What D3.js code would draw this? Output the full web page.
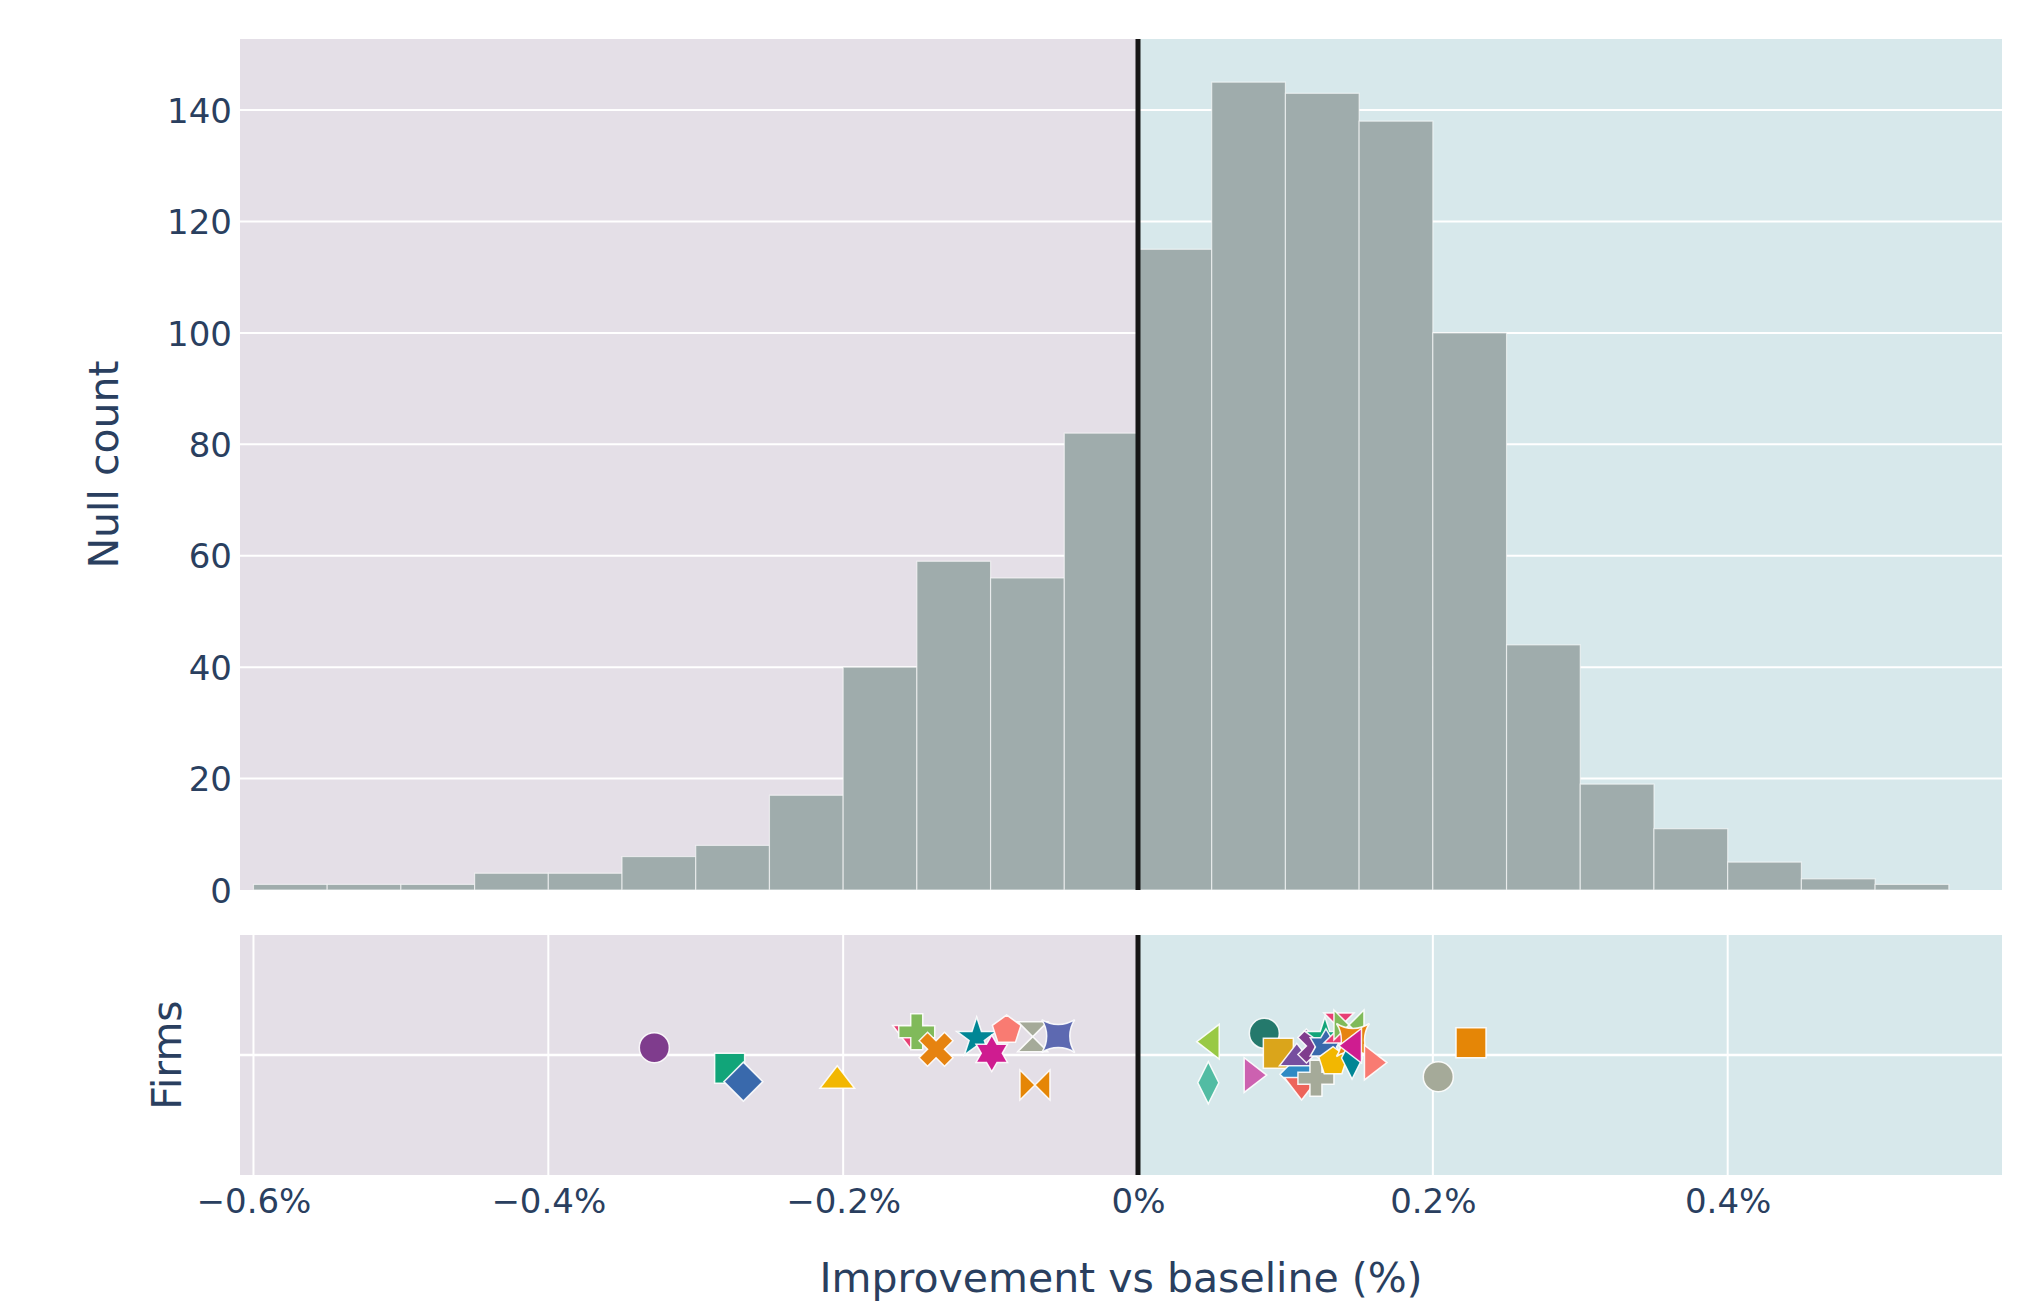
<!DOCTYPE html>
<html>
<head>
<meta charset="utf-8">
<script src="https://cdn.jsdelivr.net/npm/d3@7"></script>
<style>
  html, body { margin: 0; padding: 0; background: #ffffff; }
  svg { display: block; }
  text { font-family: "DejaVu Sans", Verdana, sans-serif; fill: #2a3f5f; }
</style>
</head>
<body>
<svg id="chart" width="2031" height="1306"></svg>
<script>
// Null distribution histogram: lower edge of each 0.05% bin and its count
const binLower = [-0.60, -0.55, -0.50, -0.45, -0.40, -0.35, -0.30, -0.25, -0.20, -0.15, -0.10, -0.05,
                   0.00,  0.05,  0.10,  0.15,  0.20,  0.25,  0.30,  0.35,  0.40,  0.45,  0.50];
const binCounts = [1, 1, 1, 3, 3, 6, 8, 17, 40, 59, 56, 82,
                   115, 145, 143, 138, 100, 44, 19, 11, 5, 2, 1];
const binWidth = 0.05;

// Axis ticks
const countTicks = [0, 20, 40, 60, 80, 100, 120, 140];
const pctTicks = [-0.6, -0.4, -0.2, 0, 0.2, 0.4];
const pctTickLabels = ["\u22120.6%", "\u22120.4%", "\u22120.2%", "0%", "0.2%", "0.4%"];

// Firms: observed improvement (%) and vertical jitter used to spread overlapping markers
const firmImprovement = [-0.3281, -0.2770, -0.2677, -0.2040, -0.1547, -0.1501, -0.1370, -0.1094, -0.0992, -0.0891,
                         -0.0714, -0.0699, -0.0541, 0.0477, 0.0500, 0.0771, 0.0857, 0.0952, 0.1095, 0.1077,
                          0.1110, 0.1207, 0.1200, 0.1268, 0.1275, 0.1323, 0.1363, 0.1431, 0.1458, 0.1452,
                          0.1465, 0.1587, 0.2037, 0.2259];
const firmJitter = [0.061, -0.111, -0.222, -0.214, 0.183, 0.194, 0.048, 0.142, 0.014, 0.208,
                    0.153, -0.250, 0.158, -0.231, 0.111, -0.167, 0.181, 0.014, -0.160, -0.028,
                    -0.250, -0.194, 0.075, 0.142, 0.067, -0.056, 0.225, 0.250, 0.125, -0.025,
                    0.077, -0.063, -0.181, 0.103];

// Marker styling: colour and symbol cycle by firm index
const firmPalette = [
  "rgb(127,60,141)", "rgb(17,165,121)", "rgb(57,105,172)", "rgb(242,183,1)", "rgb(231,63,116)",
  "rgb(128,186,90)", "rgb(230,131,16)", "rgb(0,134,149)", "rgb(207,28,144)", "rgb(249,123,114)",
  "rgb(165,170,153)",
  "rgb(229,134,6)", "rgb(93,105,177)", "rgb(82,188,163)", "rgb(153,201,69)", "rgb(204,97,176)",
  "rgb(36,121,108)", "rgb(218,165,27)", "rgb(47,138,196)", "rgb(118,78,159)", "rgb(237,100,90)",
  "rgb(165,170,153)"
];
const firmSymbols = ["circle", "square", "diamond", "triangle-up", "triangle-down", "cross", "x", "star",
                     "hexagram", "pentagon", "hourglass", "bowtie", "star-square", "diamond-tall",
                     "triangle-left", "triangle-right"];

const W = 2031, H = 1306;
const plotLeft = 240, plotRight = 2002;
const histTop = 39, histBottom = 890;
const firmTop = 935, firmBottom = 1175;

const svg = d3.select("#chart");
svg.append("rect").attr("width", W).attr("height", H).attr("fill", "#ffffff");

const pxPerUnit = 1474.2, zeroPx = 1138;
const x = d3.scaleLinear()
  .domain([(plotLeft - zeroPx) / pxPerUnit, (plotRight - zeroPx) / pxPerUnit])
  .range([plotLeft, plotRight]);
const yCount = d3.scaleLinear().domain([0, 152.75]).range([histBottom, histTop]);
const yFirm = d3.scaleLinear().domain([-1, 1]).range([firmBottom, firmTop]);

const bgNeg = "rgb(228,223,231)";
const bgPos = "rgb(215,232,235)";

// Two-tone panel backgrounds (below / above baseline)
function panelBackground(top, bottom) {
  svg.append("rect").attr("x", plotLeft).attr("y", top)
    .attr("width", x(0) - plotLeft).attr("height", bottom - top).attr("fill", bgNeg);
  svg.append("rect").attr("x", x(0)).attr("y", top)
    .attr("width", plotRight - x(0)).attr("height", bottom - top).attr("fill", bgPos);
}
panelBackground(histTop, histBottom);
panelBackground(firmTop, firmBottom);

// Histogram gridlines
svg.append("g")
  .selectAll("line").data(countTicks.filter(d => d > 0)).join("line")
  .attr("x1", plotLeft).attr("x2", plotRight)
  .attr("y1", d => yCount(d)).attr("y2", d => yCount(d))
  .attr("stroke", "#ffffff").attr("stroke-width", 2);

// Firm panel gridlines
svg.append("g")
  .selectAll("line").data(pctTicks.filter(d => d !== 0)).join("line")
  .attr("x1", d => x(d)).attr("x2", d => x(d))
  .attr("y1", firmTop).attr("y2", firmBottom)
  .attr("stroke", "#ffffff").attr("stroke-width", 2);
svg.append("line")
  .attr("x1", plotLeft).attr("x2", plotRight)
  .attr("y1", yFirm(0)).attr("y2", yFirm(0))
  .attr("stroke", "#ffffff").attr("stroke-width", 2.5);

// Histogram bars
svg.append("g")
  .selectAll("rect").data(binLower.map((lo, i) => ({ lo, count: binCounts[i] }))).join("rect")
  .attr("x", d => x(d.lo))
  .attr("width", d => x(d.lo + binWidth) - x(d.lo))
  .attr("y", d => yCount(d.count))
  .attr("height", d => yCount(0) - yCount(d.count))
  .attr("fill", "rgb(159,172,172)")
  .attr("stroke", "rgba(255,255,255,0.6)")
  .attr("stroke-width", 1.2);

// Baseline marker at 0%
[[histTop, histBottom], [firmTop, firmBottom]].forEach(([t, b]) => {
  svg.append("line").attr("x1", x(0)).attr("x2", x(0)).attr("y1", t).attr("y2", b)
    .attr("stroke", "#161616").attr("stroke-width", 5);
});

// Marker symbol paths (r = half the marker size)
function symbolPath(name, r) {
  const rt = r * 2 / Math.sqrt(3);
  switch (name) {
    case "circle":
      return `M${r},0A${r},${r} 0 1,1 0,${-r}A${r},${r} 0 0,1 ${r},0Z`;
    case "square":
      return `M${r},${r}H${-r}V${-r}H${r}Z`;
    case "diamond": {
      const d = r * 1.3;
      return `M${d},0L0,${d}L${-d},0L0,${-d}Z`;
    }
    case "diamond-tall": {
      const dx = r * 0.7, dy = r * 1.4;
      return `M0,${dy}L${dx},0L0,${-dy}L${-dx},0Z`;
    }
    case "triangle-up":
      return `M${-rt},${r / 2}H${rt}L0,${-r}Z`;
    case "triangle-down":
      return `M${-rt},${-r / 2}H${rt}L0,${r}Z`;
    case "triangle-left":
      return `M${r / 2},${-rt}V${rt}L${-r},0Z`;
    case "triangle-right":
      return `M${-r / 2},${-rt}V${rt}L${r},0Z`;
    case "cross": {
      const a = r * 0.4, b = r * 1.2;
      return `M${b},${a}H${a}V${b}H${-a}V${a}H${-b}V${-a}H${-a}V${-b}H${a}V${-a}H${b}Z`;
    }
    case "x": {
      const q = r * 0.8 / Math.SQRT2;
      const pts = [[0, q], [q, 2 * q], [2 * q, q], [q, 0], [2 * q, -q], [q, -2 * q], [0, -q],
                   [-q, -2 * q], [-2 * q, -q], [-q, 0], [-2 * q, q], [-q, 2 * q]];
      return "M" + pts.map(p => p.join(",")).join("L") + "Z";
    }
    case "pentagon": {
      const x1 = r * 0.951, x2 = r * 0.588, y0 = -r, y1 = -r * 0.309, y2 = r * 0.809;
      return `M${x1},${y1}L${x2},${y2}H${-x2}L${-x1},${y1}L0,${y0}Z`;
    }
    case "hexagram": {
      const R = r * 2 / Math.sqrt(3) * 1.05, ri = R / Math.sqrt(3);
      const pts = [];
      for (let k = 0; k < 12; k++) {
        const rad = k % 2 === 0 ? R : ri;
        const ang = -Math.PI / 2 + k * Math.PI / 6;
        pts.push([rad * Math.cos(ang), rad * Math.sin(ang)]);
      }
      return "M" + pts.map(p => p.join(",")).join("L") + "Z";
    }
    case "star": {
      const rs = r * 1.4;
      const x1 = rs * 0.225, x2 = rs * 0.951, x3 = rs * 0.363, x4 = rs * 0.588;
      const y0 = -rs, y1 = rs * -0.309, y3 = rs * 0.118, y4 = rs * 0.809, y5 = rs * 0.382;
      return `M${x1},${y1}H${x2}L${x3},${y3}L${x4},${y4}L0,${y5}L${-x4},${y4}L${-x3},${y3}L${-x2},${y1}H${-x1}L0,${y0}Z`;
    }
    case "hourglass":
      return `M${r},${r}H${-r}L${r},${-r}H${-r}Z`;
    case "bowtie":
      return `M${r},${r}V${-r}L${-r},${r}V${-r}Z`;
    case "star-square": {
      const p = r * 1.1, c = r * 2;
      const a = `A${c},${c} 0 0 1 `;
      return `M${-p},${-p}${a}${-p},${p}${a}${p},${p}${a}${p},${-p}${a}${-p},${-p}Z`;
    }
  }
  return "";
}

// Firm markers
const markerR = 15;
svg.append("g")
  .selectAll("path").data(firmImprovement.map((v, i) => ({ v, j: firmJitter[i], i }))).join("path")
  .attr("transform", d => `translate(${x(d.v)},${yFirm(d.j)})`)
  .attr("d", d => symbolPath(firmSymbols[d.i % firmSymbols.length], markerR))
  .attr("fill", d => firmPalette[d.i % firmPalette.length])
  .attr("stroke", "#ffffff")
  .attr("stroke-width", 1.5)
  .attr("stroke-opacity", 0.9);

// Axis tick labels
const yAxis = d3.axisLeft(yCount).tickValues(countTicks).tickSize(0).tickPadding(8);
const gy = svg.append("g").attr("transform", `translate(${plotLeft},0)`).call(yAxis);
gy.select(".domain").remove();
gy.selectAll("text").style("font-size", "34px").attr("fill", "#2a3f5f").attr("dy", "0.36em");

const xAxis = d3.axisBottom(x).tickValues(pctTicks).tickSize(0).tickPadding(0)
  .tickFormat((d, i) => pctTickLabels[i]);
const gx = svg.append("g").attr("transform", `translate(0,${firmBottom})`).call(xAxis);
gx.select(".domain").remove();
gx.selectAll("text").style("font-size", "34px").attr("fill", "#2a3f5f")
  .attr("dy", null).attr("y", 38);

// Axis titles
svg.append("text")
  .attr("x", (plotLeft + plotRight) / 2).attr("y", 1292)
  .attr("text-anchor", "middle").style("font-size", "41px")
  .text("Improvement vs baseline (%)");
svg.append("text")
  .attr("transform", `translate(118,${(histTop + histBottom) / 2}) rotate(-90)`)
  .attr("text-anchor", "middle").style("font-size", "41px")
  .text("Null count");
svg.append("text")
  .attr("transform", `translate(181,${(firmTop + firmBottom) / 2}) rotate(-90)`)
  .attr("text-anchor", "middle").style("font-size", "41px")
  .text("Firms");
</script>
</body>
</html>
